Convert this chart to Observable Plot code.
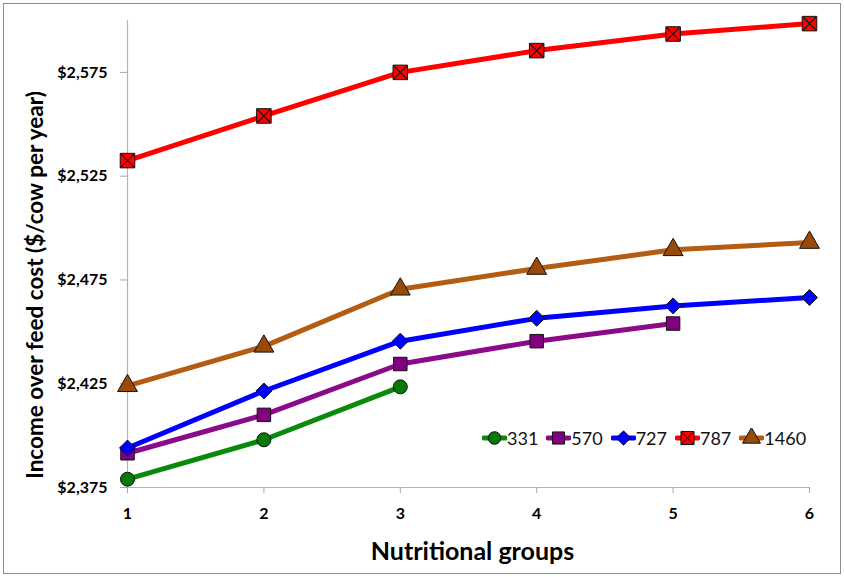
<!DOCTYPE html>
<html>
<head>
<meta charset="utf-8">
<script src="https://cdn.jsdelivr.net/npm/d3@7"></script>
<script src="https://cdn.jsdelivr.net/npm/@observablehq/plot@0.6"></script>
<style>
  html, body { margin: 0; padding: 0; background: #fff; }
  #wrap { position: relative; width: 844px; height: 577px; overflow: hidden; }
  #border { position: absolute; left: 3px; top: 3px; width: 836px; height: 569px; border: 1px solid #8c8c8c; pointer-events: none; }
  #legend { position: absolute; left: 482px; top: 427px; display: flex; align-items: center; font-family: Lato, sans-serif; font-size: 18px; color: #111; }
  #legend .item { display: flex; align-items: center; margin-right: 8px; }
  #legend svg { display: block; }
</style>
</head>
<body>
<div id="wrap">
  <div id="chart"></div>
  <div id="legend"></div>
  <div id="border"></div>
</div>
<script>
// ---- data ----
const groups = [1, 2, 3, 4, 5, 6];
const seriesNames = ["331", "570", "727", "787", "1460"];
const s331  = [2379, 2398, 2423.5];
const s570  = [2391.5, 2410, 2434.5, 2445.5, 2454];
const s727  = [2394, 2421.5, 2445.5, 2456.5, 2462.5, 2466.5];
const s787  = [2532.5, 2554, 2575, 2585.5, 2593.5, 2598.5];
const s1460 = [2424, 2443, 2470.5, 2480.5, 2489.5, 2493];
const yTicks = [2375, 2425, 2475, 2525, 2575];
const yDomain = [2375, 2600];
const xTitle = "Nutritional groups";
const yTitle = "Income over feed cost ($/cow per year)";

const seriesValues = [s331, s570, s727, s787, s1460];
const lineColors   = ["#0a8a0a", "#8a0a8a", "#0000ff", "#ff0000", "#b35c12"];
const markColors   = ["#067a06", "#800080", "#0000ff", "#ff0000", "#9a4a08"];
const symbols      = ["circle", "square", "diamond2", "square", "triangle"];
const radii        = [7, 7.6, 7.2, 8.2, 7.4];

const rows = [];
seriesNames.forEach((name, i) => {
  seriesValues[i].forEach((v, j) => rows.push({series: name, idx: i, group: groups[j], value: v}));
});

const fmt = d3.format(",");
const font = "Lato, sans-serif";

const marks = [
  Plot.ruleX([groups[0]], {stroke: "#b4b4b4", strokeWidth: 1.2}),
  Plot.ruleY([yDomain[0]], {stroke: "#b4b4b4", strokeWidth: 1.2}),
  Plot.axisY({ticks: yTicks, tickSize: 7, tickPadding: 13, stroke: "#a8a8a8", tickFormat: d => "$" + fmt(d), label: null}),
  Plot.axisX({ticks: groups, tickSize: 6, tickPadding: 14, stroke: "#a8a8a8", tickFormat: "d", label: null}),
];
seriesNames.forEach((name, i) => {
  const d = rows.filter(r => r.series === name);
  marks.push(Plot.line(d, {x: "group", y: "value", stroke: lineColors[i], strokeWidth: 5, strokeLinejoin: "round"}));
});
seriesNames.forEach((name, i) => {
  const d = rows.filter(r => r.series === name);
  marks.push(Plot.dot(d, {x: "group", y: "value", symbol: symbols[i], r: radii[i], fill: markColors[i], stroke: "#111", strokeWidth: 1}));
  if (name === "787") {
    marks.push(Plot.dot(d, {x: "group", y: "value", symbol: "times", r: 5.9, stroke: "#111", strokeWidth: 1.1}));
  }
});
marks.push(Plot.text([yTitle], {frameAnchor: "left", textAnchor: "middle", lineAnchor: "middle", rotate: -90, dx: -92, dy: 31, fontSize: 22.5, fontWeight: "bold", fill: "#000"}));
marks.push(Plot.text([xTitle], {frameAnchor: "bottom", textAnchor: "middle", lineAnchor: "middle", dx: 4, dy: 64, fontSize: 25, fontWeight: "bold", fill: "#000"}));

const chart = Plot.plot({
  width: 844,
  height: 577,
  marginLeft: 127,
  marginRight: 35,
  marginTop: 20,
  marginBottom: 90,
  style: {fontFamily: font, fontSize: "16px", fontWeight: "bold", color: "#000", background: "transparent", overflow: "visible"},
  x: {domain: [groups[0], groups[groups.length - 1]]},
  y: {domain: yDomain},
  marks
});
document.getElementById("chart").appendChild(chart);

// ---- legend ----
const legend = d3.select("#legend");
seriesNames.forEach((name, i) => {
  const item = legend.append("div").attr("class", "item");
  const svg = item.append("svg").attr("width", 25).attr("height", 20);
  svg.append("line").attr("x1", 2).attr("x2", 23).attr("y1", 10).attr("y2", 10)
    .attr("stroke", lineColors[i]).attr("stroke-width", 5).attr("stroke-linecap", "round");
  const symMap = {circle: d3.symbolCircle, square: d3.symbolSquare, diamond2: d3.symbolDiamond2, triangle: d3.symbolTriangle};
  const size = Math.PI * Math.pow(radii[i] * 0.9, 2);
  svg.append("path").attr("transform", "translate(12.5,10)")
    .attr("d", d3.symbol(symMap[symbols[i]], size)())
    .attr("fill", markColors[i]).attr("stroke", "#111").attr("stroke-width", 1);
  if (name === "787") {
    svg.append("path").attr("transform", "translate(12.5,10)")
      .attr("d", d3.symbol(d3.symbolTimes, 90)())
      .attr("fill", "none").attr("stroke", "#111").attr("stroke-width", 1);
  }
  item.append("span").text(name);
});
</script>
</body>
</html>
